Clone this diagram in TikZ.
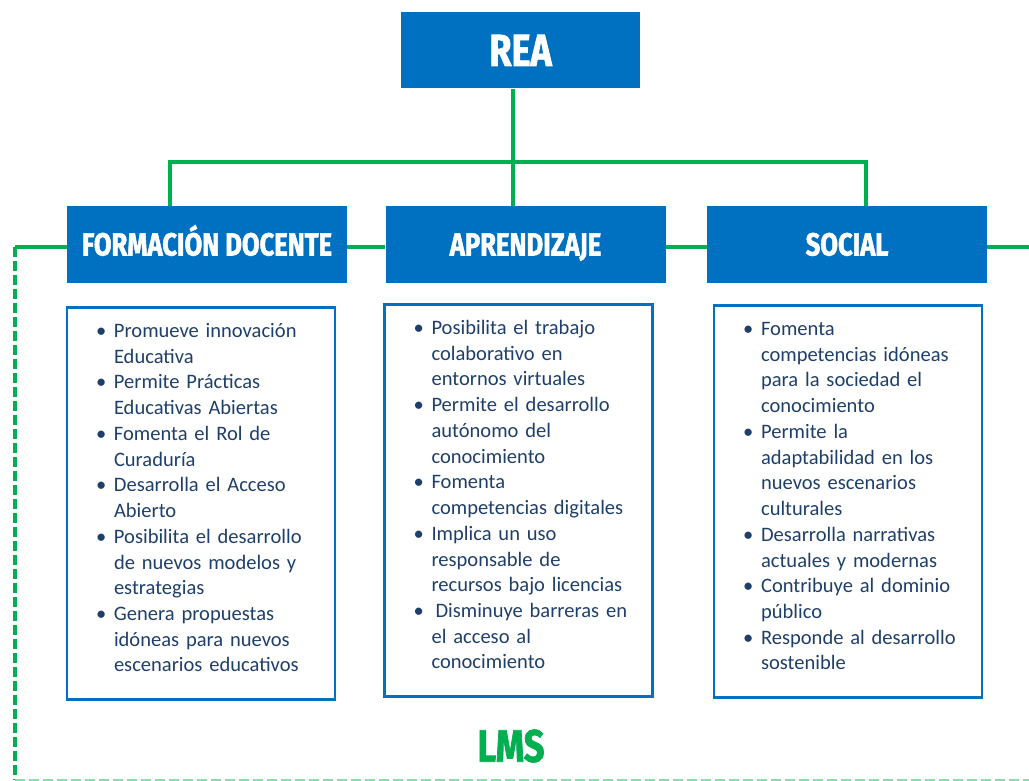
\documentclass[tikz,border=0pt]{standalone}
\usepackage{fontspec}
\setmainfont{Carlito}
\newfontfamily\headfont[FakeStretch=0.8,BoldFeatures={FakeBold=1.6}]{Fira Sans}
\usepackage{array}
\usetikzlibrary{positioning}
\definecolor{reablue}{HTML}{0070C0}
\definecolor{reagreen}{HTML}{00B050}
\definecolor{listtext}{HTML}{1F3F6B}
\newenvironment{pointlist}{\begin{tabular}{@{}p{13.5pt}@{}l@{}}}{\end{tabular}}
\tikzset{headbox/.style={
    % The shape:
    rectangle,
    minimum width=210pt,
    minimum height=57.75pt,
    inner sep=0pt,
    text height=16.5pt,
    text depth=0pt,
    % The filling:
    fill=reablue,
    % Font
    text=white,
    font=\headfont\bfseries\fontsize{24}{28}\selectfont
    },
    listbox/.style={
    rectangle,
    minimum width=201pt,
    minimum height=294pt,
    inner xsep=21.75pt,
    text width=157.5pt,
    align=left,
    draw=reablue,
    line width=1.9pt,
    text=listtext,
    font=\fontsize{15.4}{19.3}\selectfont
    },
    link/.style={draw=reagreen, line width=2.4pt},
    lmsline/.style={draw=reagreen, line width=2.6pt, dash pattern=on 7.5pt off 3pt},
}

\begin{document}
\begin{tikzpicture}[x=0.75pt, y=-0.75pt]
    \useasboundingbox (0,0) rectangle (1029,781);

    \node (fd)   [headbox] at (207,244.5) {FORMACIÓN DOCENTE};
    \node (apr)  [headbox,right=28.5pt of fd]  {APRENDIZAJE};
    \node (soc)  [headbox,right=30.75pt of apr] {SOCIAL};
    \node (rea)  [headbox,minimum width=179.25pt,minimum height=57pt,
                  text height=23.25pt,
                  font=\headfont\bfseries\fontsize{33.75}{38}\selectfont,
                  above=87.75pt of apr,xshift=-3.75pt] {REA};

    \node (fdlist) [listbox,below=17.25pt of fd.south west,anchor=north west,xshift=-0.75pt] {%
      \begin{pointlist}
        \textbullet & Promueve innovación\\
                    & Educativa\\
        \textbullet & Permite Prácticas\\
                    & Educativas Abiertas\\
        \textbullet & Fomenta el Rol de\\
                    & Curaduría\\
        \textbullet & Desarrolla el Acceso\\
                    & Abierto\\
        \textbullet & Posibilita el desarrollo\\
                    & de nuevos modelos y\\
                    & estrategias\\
        \textbullet & Genera propuestas\\
                    & idóneas para nuevos\\
                    & escenarios educativos\\[6pt]
      \end{pointlist}};
    \node (aprlist) [listbox,below=15pt of apr.south west,anchor=north west,xshift=-1.5pt] {%
      \begin{pointlist}
        \textbullet & Posibilita el trabajo\\
                    & colaborativo en\\
                    & entornos virtuales\\
        \textbullet & Permite el desarrollo\\
                    & autónomo del\\
                    & conocimiento\\
        \textbullet & Fomenta\\
                    & competencias digitales\\
        \textbullet & Implica un uso\\
                    & responsable de\\
                    & recursos bajo licencias\\
        \textbullet & \hspace{3pt}Disminuye barreras en\\
                    & el acceso al\\
                    & conocimiento\\[6pt]
      \end{pointlist}};
    \node (soclist) [listbox,below=15.75pt of soc.south west,anchor=north west,xshift=4.5pt] {%
      \begin{pointlist}
        \textbullet & Fomenta\\
                    & competencias idóneas\\
                    & para la sociedad el\\
                    & conocimiento\\
        \textbullet & Permite la\\
                    & adaptabilidad en los\\
                    & nuevos escenarios\\
                    & culturales\\
        \textbullet & Desarrolla narrativas\\
                    & actuales y modernas\\
        \textbullet & Contribuye al dominio\\
                    & público\\
        \textbullet & Responde al desarrollo\\
                    & sostenible\\[6pt]
      \end{pointlist}};

    \node (lms) [font=\headfont\bfseries\fontsize{34}{40}\selectfont,text=reagreen] at (511,746) {LMS};

    % tree from REA
    \coordinate (hub)  at (513,162);
    \coordinate (barL) at (170,162);
    \coordinate (barR) at (866,162);
    \draw[link] (hub |- rea.south) -- (hub |- apr.north);
    \draw[link] (barL |- fd.north) -- (barL) -- (barR) -- (barR |- soc.north);

    % rail through the three boxes
    \coordinate (railL) at (15,247);
    \coordinate (railR) at (1029,247);
    \draw[link] (railL) -- (railL -| fd.west);
    \draw[link] (fd.east |- railL) -- (apr.west |- railL);
    \draw[link] (apr.east |- railL) -- (soc.west |- railL);
    \draw[link] (soc.east |- railL) -- (railR);

    % LMS frame
    \coordinate (lmsB) at (15,779.5);
    \coordinate (lmsR) at (1029,779.5);
    \draw[lmsline] (railL) -- (lmsB);
    \draw[lmsline,draw=reagreen!45,line width=1.5pt] (lmsB) -- (lmsR);
\end{tikzpicture}
\end{document}
